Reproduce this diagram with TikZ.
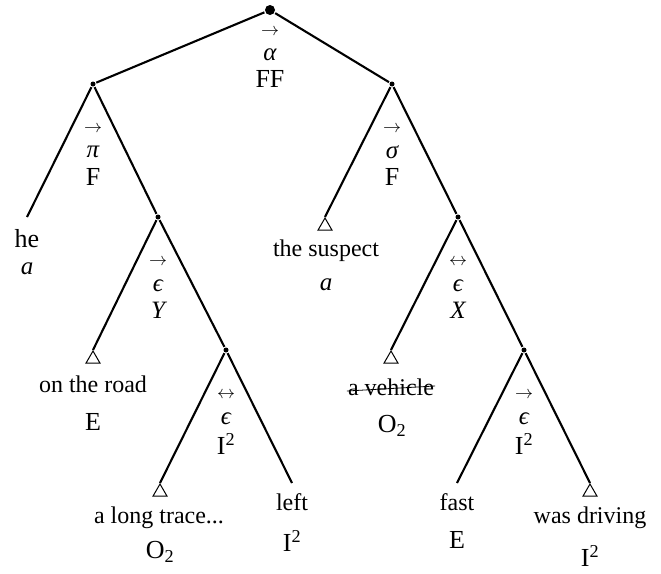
\RequirePackage{fix-cm}
\documentclass[tikz,border=0pt]{standalone}
\usepackage{fontspec}
\setmainfont{Liberation Serif}
\usepackage{tikz}
\usetikzlibrary{shapes.geometric}

\begin{document}
\begin{tikzpicture}[x=1pt, y=-1pt, line width=2.1pt,
  dot/.style={circle, fill, inner sep=0pt, minimum size=5pt},
  bigdot/.style={circle, fill, inner sep=0pt, minimum size=10pt},
  tri/.style={draw, regular polygon, regular polygon sides=3, inner sep=0pt, minimum size=16pt, line width=1pt, anchor=corner 1},
  txt/.style={inner sep=0pt, font=\fontsize{24}{26}\selectfont},
  cat/.style={inner sep=0pt, font=\fontsize{26}{28}\selectfont},
  sym/.style={inner sep=0pt, font=\fontsize{25}{27}\selectfont\itshape},
  arr/.style={inner sep=0pt, font=\fontsize{18}{18}\selectfont}]
\useasboundingbox (0,0) rectangle (661,573);
% inner nodes
\node[bigdot] (root) at (270,10) {};
\node[dot] (pi) at (93,84) {};
\node[dot] (sigma) at (392,84) {};
\node[dot] (epsY) at (158,217) {};
\node[dot] (epsX) at (458,217) {};
\node[dot] (epsL) at (226,350) {};
\node[dot] (epsR) at (524,350) {};
% leaves
\coordinate (he) at (27,217);
\node[tri] (suspect) at (325,217) {};
\node[tri] (road) at (93,350) {};
\node[tri] (vehicle) at (391,350) {};
\node[tri] (trace) at (160,483) {};
\coordinate (left) at (292,483);
\coordinate (fast) at (457,483);
\node[tri] (driving) at (590,483) {};
% branches
\draw (root) -- (pi);
\draw (root) -- (sigma);
\draw (pi) -- (he);
\draw (pi) -- (epsY);
\draw (sigma) -- (suspect.corner 1);
\draw (sigma) -- (epsX);
\draw (epsY) -- (road.corner 1);
\draw (epsY) -- (epsL);
\draw (epsX) -- (vehicle.corner 1);
\draw (epsX) -- (epsR);
\draw (epsL) -- (trace.corner 1);
\draw (epsL) -- (left);
\draw (epsR) -- (fast);
\draw (epsR) -- (driving.corner 1);
% labels of the inner nodes
\node[arr] (rootA) at (270,32) {$\rightarrow$};
\node[sym] (rootS) at (270,55) {α};
\node[cat] (rootC) at (270,79) {FF};
\node[arr] (piA) at (93,129) {$\rightarrow$};
\node[sym] (piS) at (93,152) {π};
\node[cat] (piC) at (93,177) {F};
\node[arr] (sigmaA) at (392,129) {$\rightarrow$};
\node[sym] (sigmaS) at (392,152) {σ};
\node[cat] (sigmaC) at (392,177) {F};
\node[arr] (epsYA) at (158,262) {$\rightarrow$};
\node[sym] (epsYS) at (158,286) {ϵ};
\node[sym] (epsYC) at (158,310) {Y};
\node[arr] (epsXA) at (458,262) {$\leftrightarrow$};
\node[sym] (epsXS) at (458,286) {ϵ};
\node[sym] (epsXC) at (458,310) {X};
\node[arr] (epsLA) at (226,395) {$\leftrightarrow$};
\node[sym] (epsLS) at (226,419) {ϵ};
\node[cat] (epsLC) at (226,444) {I\textsuperscript{2}};
\node[arr] (epsRA) at (524,395) {$\rightarrow$};
\node[sym] (epsRS) at (524,419) {ϵ};
\node[cat] (epsRC) at (524,444) {I\textsuperscript{2}};
% labels of the leaves
\node[cat] (heT) at (27,239) {he};
\node[sym] (heC) at (27,269) {a};
\node[txt] (suspectT) at (326,251) {the suspect};
\node[sym] (suspectC) at (326,285) {a};
\node[txt] (roadT) at (93,384) {on the road};
\node[cat] (roadC) at (93,422) {E};
\node[txt] (vehicleT) at (391,387) {a vehicle};
\draw[line width=0.8pt] ([yshift=-4pt]vehicleT.west) -- ([yshift=1pt]vehicleT.east);
\node[cat] (vehicleC) at (392,426) {O\textsubscript{2}};
\node[txt] (traceT) at (159,518) {a long trace...};
\node[cat] (traceC) at (160,552) {O\textsubscript{2}};
\node[txt] (leftT) at (292,502) {left};
\node[cat] (leftC) at (292,541) {I\textsuperscript{2}};
\node[txt] (fastT) at (457,502) {fast};
\node[cat] (fastC) at (457,540) {E};
\node[txt] (drivingT) at (590,518) {was driving};
\node[cat] (drivingC) at (590,556) {I\textsuperscript{2}};
\end{tikzpicture}
\end{document}
